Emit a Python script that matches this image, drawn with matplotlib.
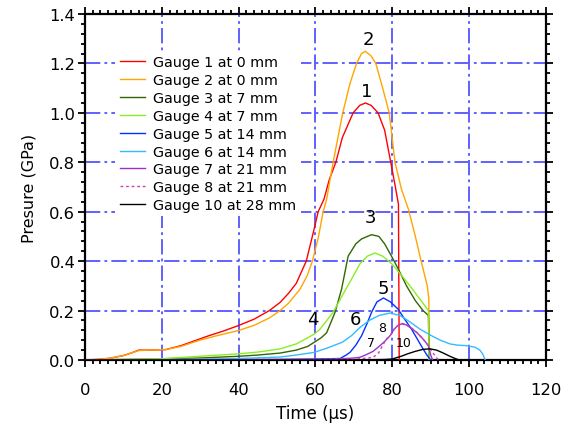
import matplotlib
matplotlib.use("Agg")
import matplotlib.pyplot as plt
from matplotlib.ticker import MultipleLocator

plt.rcParams['font.family'] = ['DejaVu Sans']
plt.rcParams['lines.scale_dashes'] = False

# gauge traces (time in us, pressure in GPa)
t1 = [0, 3, 6.5, 10, 12, 14, 17, 21, 25, 28.6, 32, 36, 39.9, 44, 48, 50.8, 53, 55, 57.6,
      59.5, 60.7, 62.2, 63.6, 65.3, 67, 69.8, 71.5, 73, 74.5, 76.3, 78, 79.6, 80.8, 81.6, 81.8]
p1 = [0, 0.002, 0.007, 0.018, 0.028, 0.040, 0.040, 0.042, 0.058, 0.078, 0.097, 0.117, 0.139,
      0.165, 0.20, 0.233, 0.27, 0.31, 0.40, 0.52, 0.60, 0.65, 0.73, 0.80, 0.90, 1.00, 1.03,
      1.04, 1.03, 1.00, 0.93, 0.80, 0.70, 0.63, 0.0]

t2 = [0, 3, 6.5, 10, 12, 14, 17, 21, 25, 29.9, 34, 39.9, 44, 48, 50.8, 53, 56, 57.8, 59.2,
      60.8, 62.0, 62.9, 63.8, 64.6, 67.1, 69, 70.7, 72, 73, 74.5, 75.7, 77.5, 79.2, 80.7,
      82.4, 84.2, 86, 87.2, 89.1, 89.5, 89.7]
p2 = [0, 0.002, 0.007, 0.018, 0.028, 0.038, 0.040, 0.042, 0.055, 0.08, 0.097, 0.119, 0.14,
      0.17, 0.20, 0.23, 0.287, 0.34, 0.40, 0.50, 0.60, 0.65, 0.73, 0.80, 1.00, 1.12, 1.20,
      1.24, 1.249, 1.23, 1.20, 1.10, 1.00, 0.80, 0.69, 0.61, 0.50, 0.42, 0.30, 0.25, 0.0]

t3 = [0, 10, 20, 30, 40, 45, 50.8, 55, 58, 59.7, 61.5, 62.9, 65.1, 66.8, 68.5, 70.5, 72,
      74.6, 76.5, 78, 79.8, 81.5, 83.7, 86, 88, 89.4, 89.6]
p3 = [0, 0.002, 0.005, 0.008, 0.015, 0.020, 0.028, 0.040, 0.055, 0.072, 0.09, 0.11, 0.193,
      0.287, 0.42, 0.47, 0.49, 0.507, 0.50, 0.47, 0.42, 0.37, 0.30, 0.24, 0.20, 0.18, 0.0]

t4 = [0, 20, 25, 30, 40, 45, 50.8, 55, 58, 59.7, 61.2, 64.6, 67.2, 69.5, 71.6, 73.5, 75.5,
      77.5, 79.8, 82, 84.6, 87, 89.4, 89.6]
p4 = [0, 0.005, 0.01, 0.015, 0.025, 0.032, 0.045, 0.065, 0.09, 0.105, 0.125, 0.193, 0.267,
      0.33, 0.39, 0.42, 0.433, 0.42, 0.39, 0.35, 0.30, 0.25, 0.20, 0.0]

t5 = [0, 50, 60, 66.4, 68, 69, 70.5, 72, 73.5, 74.6, 76, 77.7, 79.5, 81.5, 83, 85, 86.5,
      88, 89, 90]
p5 = [0, 0.002, 0.004, 0.006, 0.02, 0.031, 0.06, 0.098, 0.15, 0.193, 0.235, 0.251, 0.235,
      0.206, 0.17, 0.125, 0.085, 0.045, 0.02, 0.0]

t6 = [0, 30, 40, 50.8, 55, 59.7, 63, 67, 69.5, 71.6, 74, 76.5, 79.4, 82, 84.5, 87.2, 90,
      92.5, 95, 97, 99.3, 101.5, 102.8, 103.5, 104.2]
p6 = [0, 0.003, 0.006, 0.012, 0.02, 0.031, 0.048, 0.072, 0.10, 0.132, 0.16, 0.18, 0.19,
      0.18, 0.155, 0.125, 0.10, 0.08, 0.065, 0.06, 0.058, 0.052, 0.04, 0.025, 0.0]

t7 = [0, 60, 66, 70, 71.6, 73, 75, 76.8, 78, 79.4, 80.5, 81.5, 82.4, 83.5, 85, 86.3, 88,
      89.4, 90, 90.5]
p7 = [0, 0.002, 0.004, 0.008, 0.011, 0.02, 0.035, 0.058, 0.075, 0.098, 0.125, 0.14, 0.146,
      0.143, 0.128, 0.112, 0.085, 0.058, 0.02, 0.0]

t8 = [0, 70, 75, 76.5, 77.5, 78.5, 79.5, 80.5, 81.5, 82.5, 83.5, 85, 86.5, 88, 89.5, 90.5,
      91.5, 92]
p8 = [0, 0.003, 0.01, 0.03, 0.06, 0.085, 0.10, 0.125, 0.14, 0.148, 0.145, 0.13, 0.11,
      0.085, 0.055, 0.03, 0.01, 0.0]

t10 = [0, 70, 78, 80, 82.3, 84, 86, 88, 89.8, 91.5, 93, 95, 96.5, 97.5]
p10 = [0, 0.0, 0.002, 0.004, 0.015, 0.025, 0.035, 0.043, 0.045, 0.04, 0.03, 0.015, 0.005, 0.0]

labels = ["Gauge 1 at 0 mm", "Gauge 2 at 0 mm", "Gauge 3 at 7 mm", "Gauge 4 at 7 mm",
          "Gauge 5 at 14 mm", "Gauge 6 at 14 mm", "Gauge 7 at 21 mm", "Gauge 8 at 21 mm",
          "Gauge 10 at 28 mm"]
colors = ['#ff0000', '#ffa500', '#336600', '#88ee22', '#0033ff', '#33bbff', '#9933cc',
          '#cc44aa', '#000000']

# peak numbers: text, x, y, size
peak_text = ["2", "1", "3", "4", "5", "6", "7", "8", "10"]
peak_x = [73.7, 73.4, 74.2, 59.3, 77.6, 70.3, 74.4, 77.3, 83.0]
peak_y = [1.30, 1.09, 0.58, 0.166, 0.29, 0.166, 0.069, 0.13, 0.069]
peak_size = [13, 13, 13, 13, 13, 13, 9, 9, 9]

fig = plt.figure(figsize=(5.64, 4.27), dpi=100)
ax = fig.add_axes([0.1507, 0.1546, 0.8173, 0.8103])

series = [(t1, p1), (t2, p2), (t3, p3), (t4, p4), (t5, p5), (t6, p6), (t7, p7), (t8, p8),
          (t10, p10)]
for (t, p), lab, col in zip(series, labels, colors):
    ls = (0, (2, 2)) if lab.startswith("Gauge 8") else '-'
    ax.plot(t, p, color=col, lw=1.0, ls=ls, label=lab, zorder=3)

for s, x, y, fs in zip(peak_text, peak_x, peak_y, peak_size):
    ax.text(x, y, s, fontsize=fs, ha='center', va='center', zorder=4)

ax.set_xlim(0, 120)
ax.set_ylim(0, 1.4)
ax.xaxis.set_major_locator(MultipleLocator(20))
ax.xaxis.set_minor_locator(MultipleLocator(2))
ax.yaxis.set_major_locator(MultipleLocator(0.2))
ax.yaxis.set_minor_locator(MultipleLocator(0.04))
ax.yaxis.set_major_formatter(plt.FormatStrFormatter('%.1f'))

ax.tick_params(which='both', direction='out', top=True, right=True, width=1.3,
               labelsize=11.8)
ax.tick_params(which='major', length=5)
ax.tick_params(which='minor', length=3)
ax.tick_params(axis='x', which='major', pad=11)
ax.tick_params(axis='y', which='major', pad=2)
for sp in ax.spines.values():
    sp.set_linewidth(1.6)

ax.grid(True, which='major', color='#6060ff', lw=1.4, ls=(0, (11, 3, 2, 3)), zorder=1)
ax.set_axisbelow(True)

ax.set_xlabel("Time (µs)", fontsize=12, labelpad=5)
ax.set_ylabel("Presure (GPa)", fontsize=11.5, labelpad=9)

leg = ax.legend(loc='upper left', bbox_to_anchor=(0.066, 0.893), fontsize=10.3,
                frameon=True, facecolor='white', edgecolor='none', framealpha=1,
                fancybox=False, borderpad=0.3, labelspacing=0.27, handlelength=1.8,
                handletextpad=0.55, borderaxespad=0)
leg.set_zorder(5)

fig.savefig("out.png", dpi=100)
